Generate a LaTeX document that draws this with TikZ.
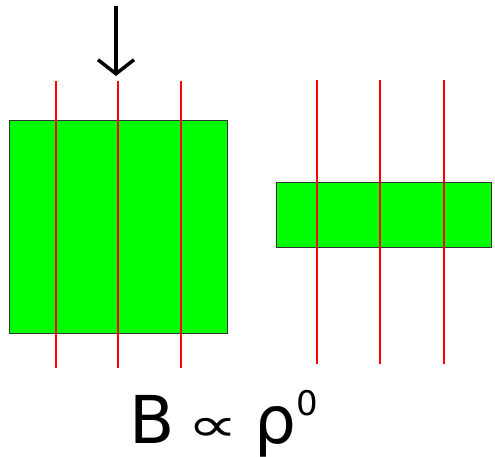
\documentclass[tikz,border=0pt]{standalone}
\usepackage{fontspec}
\setmainfont{DejaVu Sans}
\usetikzlibrary{arrows.meta}

\begin{document}
\begin{tikzpicture}[x=1pt, y=-1pt,
		slab/.style={draw=black!80, line width=1.2pt, fill=green, inner sep=0pt, anchor=north west},
		fieldline/.style={red, line width=2pt},
		load/.style={-{Straight Barb[length=14pt, width=36pt]}, line width=3.5pt}]
	\useasboundingbox (0, 0) rectangle (495, 457);
	
	% Thick slab
	\node[slab, minimum width=218pt, minimum height=213pt] (thick) at (8.5, 120) {};
	\foreach \x [count=\i] in {55.5, 118, 181} {
		\coordinate (ta\i) at (\x, 81);
		\coordinate (tb\i) at (\x, 368);
		\draw[fieldline] (ta\i) -- (tb\i);
	}
	
	% Thin slab
	\node[slab, minimum width=215pt, minimum height=65pt] (thin) at (276, 182) {};
	\foreach \x [count=\i] in {317, 380, 444} {
		\coordinate (sa\i) at (\x, 80);
		\coordinate (sb\i) at (\x, 364);
		\draw[fieldline] (sa\i) -- (sb\i);
	}
	
	% Compression
	\coordinate (push) at (116, 6);
	\coordinate (hit) at (116, 76);
	\draw[load] (push) -- (hit);
	
	\node[anchor=base west, font=\fontsize{66}{66}\selectfont, inner sep=0pt] (law) at (129, 443)
		{B\hspace{0.2em}\raisebox{0.03em}{\scalebox{1.08}[0.72]{∝}}\hspace{0.24em}ρ\raisebox{0.42em}{\fontsize{34}{34}\selectfont 0}};
\end{tikzpicture}
\end{document}
